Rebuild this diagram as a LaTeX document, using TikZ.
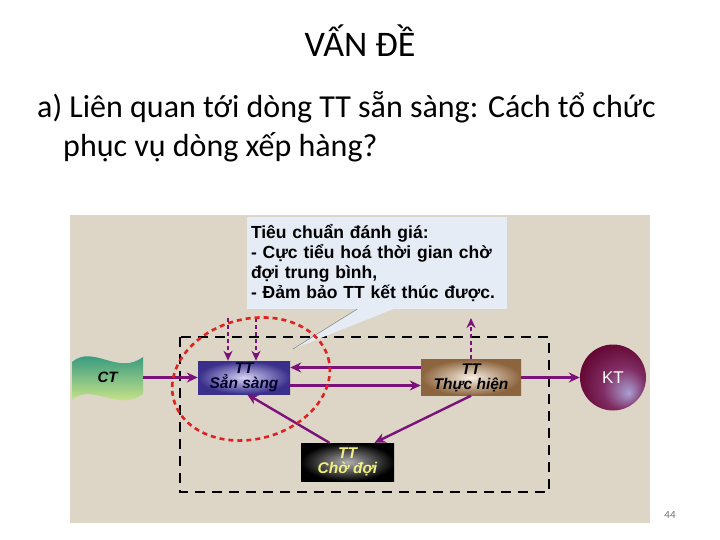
\documentclass[tikz,border=0pt]{standalone}
\usepackage{fontspec}
\setmainfont{Carlito}
\newfontfamily\diafont{Liberation Sans}
\usetikzlibrary{arrows.meta, positioning, calc}
\definecolor{slidebg}{RGB}{221,214,199}
\definecolor{notebg}{RGB}{229,236,246}
\definecolor{flowpurple}{RGB}{122,18,122}
\definecolor{focusred}{RGB}{226,32,32}
\definecolor{readyout}{RGB}{58,48,140}
\definecolor{readyin}{RGB}{214,210,245}
\definecolor{runout}{RGB}{140,100,62}
\definecolor{runin}{RGB}{248,240,228}
\definecolor{waitin}{RGB}{175,175,175}
\definecolor{waittext}{RGB}{240,240,130}
\definecolor{ctteal}{RGB}{18,136,124}
\definecolor{ctyellow}{RGB}{238,246,140}
\definecolor{ktdark}{RGB}{98,4,48}
\definecolor{ktmid}{RGB}{128,45,100}
\definecolor{ktlight}{RGB}{170,160,210}
\pgfdeclareradialshading{ktshade}{\pgfpoint{12bp}{-12bp}}{color(0bp)=(ktlight); color(16bp)=(ktmid); color(32bp)=(ktdark); color(50bp)=(ktdark)}
\tikzstyle{boxlabel} = [rectangle, inner sep=0pt, align=center, font=\diafont\bfseries\itshape\fontsize{15.5}{15}\selectfont]
\tikzstyle{readybox} = [boxlabel, minimum width=92pt, minimum height=33pt, inner color=readyin, outer color=readyout, text=black!85!blue]
\tikzstyle{runbox} = [boxlabel, minimum width=100pt, minimum height=36pt, inner color=runin, outer color=runout, text=black]
\tikzstyle{waitbox} = [boxlabel, minimum width=93pt, minimum height=38pt, inner color=waitin, outer color=black, text=waittext]
\tikzstyle{endball} = [circle, minimum size=66pt, inner sep=0pt, shading=ktshade, text=white, font=\diafont\fontsize{17}{18}\selectfont]
\tikzstyle{ctlabel} = [rectangle, minimum width=71pt, minimum height=44pt, inner sep=0pt, font=\diafont\bfseries\itshape\fontsize{15}{16}\selectfont]
\tikzstyle{note} = [rectangle, fill=notebg, minimum width=260pt, minimum height=92pt, inner sep=4pt, text width=252pt, align=left, font=\diafont\bfseries\fontsize{17.5}{20}\selectfont]
\tikzstyle{flow} = [draw=flowpurple, line width=3pt, -{Stealth[length=11pt, width=10pt]}]
\tikzstyle{thinflow} = [draw=flowpurple, line width=2.4pt, -{Stealth[length=11pt, width=10pt]}]
\tikzstyle{dashflow} = [draw=flowpurple, line width=2pt, dash pattern=on 4pt off 3pt, -{Stealth[length=10pt, width=9pt]}]

\begin{document}
\begin{tikzpicture}[x=1pt, y=-1pt, node distance=140pt]
\useasboundingbox (0,0) rectangle (720,540);
\fill [white] (0,0) rectangle (720,540);
% slide text
\node (title) [anchor=base, font=\fontsize{36}{40}\selectfont] at (360,57) {VẤN ĐỀ};
\node (line1) [anchor=base west, inner sep=0pt, font=\fontsize{32}{38}\selectfont] at (37,118) {a) Liên quan tới dòng TT sẵn sàng: Cách tổ chức};
\node (line2) [anchor=base west, inner sep=0pt, font=\fontsize{32}{38}\selectfont] at (63,157) {phục vụ dòng xếp hàng?};
\node (page) [anchor=base, text=black!55, font=\fontsize{11}{12}\selectfont] at (670,518) {44};
% diagram
\fill [slidebg] (70,215) rectangle (650,523);
\draw [black, line width=1.8pt, dash pattern=on 10pt off 7pt] (180,337) rectangle (549,492);
\path [top color=ctteal, bottom color=ctyellow] (72,362) .. controls (93,344) and (118,376) .. (143,357) -- (143,394) .. controls (118,413) and (93,382) .. (72,400) -- cycle;

\node (ready) [readybox] at (244,377.5) {TT\\Sẳn sàng};
\node (run) [runbox, right of=ready, xshift=87pt] {TT\\Thực hiện};
\node (kt) [endball, right of=run, xshift=2pt] {KT};
\node (ct) [ctlabel, left of=ready, xshift=3.5pt] {CT};
\node (wait) [waitbox, below of=ready, xshift=103.5pt, yshift=55.5pt] {TT\\Chờ đợi};
\node (note) [note, above of=ready, xshift=133pt, yshift=-25.5pt] {Tiêu chuẩn đánh giá:\\- Cực tiểu hoá thời gian chờ\\đợi trung bình,\\- Đảm bảo TT kết thúc được.};
\coordinate (pin) at (293,349);
\fill [notebg] ([xshift=-20pt]note.south) -- (pin) -- ([xshift=16pt]note.south) -- cycle;
\draw [black!45, line width=0.6pt] ([xshift=-20pt]note.south) -- (pin);

\coordinate (newa) at (228,318);
\coordinate (newb) at (256,318);
\coordinate (out) at (471,318);
\draw [flow] (ct) -- (ready);
\draw [flow] ([yshift=10pt]run.west) -- ([yshift=10pt]ready.east);
\draw [flow] ([yshift=-8pt]ready.east) -- ([yshift=-8pt]run.west);
\draw [thinflow] (run) -- (kt);
\draw [thinflow] (run.south) -- ([xshift=27pt]wait.north);
\draw [thinflow] ([xshift=-18pt]wait.north) -- ([xshift=3pt]ready.south);
\draw [dashflow] (newa) -- (newa |- ready.north);
\draw [dashflow] (newb) -- (newb |- ready.north);
\draw [dashflow] (run.north) -- (out);

\draw [focusred, line width=2.6pt, dash pattern=on 5pt off 4pt, rotate around={15:(251,379)}] (251,379) ellipse [x radius=80, y radius=60];
\end{tikzpicture}
\end{document}
